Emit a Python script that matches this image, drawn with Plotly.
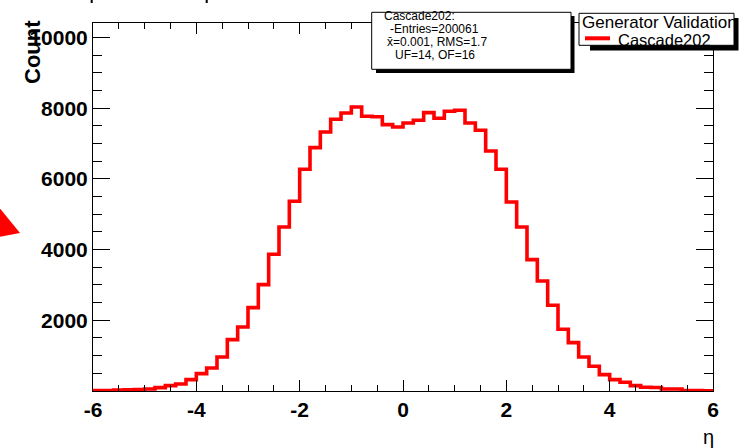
import plotly.graph_objects as go

# ---------------- data ----------------
bin_low = -6.0
bin_width = 0.2
counts = [
    10, 12, 30, 35, 40, 57, 95, 152, 199, 322,
    491, 651, 963, 1453, 1811, 2358, 3009, 3867, 4640, 5366,
    6272, 6884, 7328, 7686, 7865, 8035, 7771, 7760, 7535, 7469,
    7582, 7658, 7875, 7714, 7912, 7941, 7582, 7375, 6790, 6272,
    5347, 4640, 3716, 3113, 2424, 1745, 1368, 963, 699, 463,
    322, 246, 152, 105, 100, 57, 55, 15, 10, 8,
]
x_ticks = [-6, -4, -2, 0, 2, 4, 6]
x_ticktext = ["-6", "-4", "-2", "0", "2", "4", "6"]
y_ticks = [0, 2000, 4000, 6000, 8000, 10000]
y_ticktext = ["", "2000", "4000", "6000", "8000", "10000"]
stats_lines = ["Cascade202:", "-Entries=200061", "x\u0304=0.001, RMS=1.7", "UF=14, OF=16"]
legend_title = "Generator Validation"
series_name = "Cascade202"

edges = [bin_low + i * bin_width for i in range(len(counts) + 1)]
ys = counts + [counts[-1]]

# ---------------- geometry helpers (pixel -> paper) ----------------
W, H = 748, 448
L, R, T, B = 93, 35, 23, 57
PW, PH = W - L - R, H - T - B


def px(x):
    return (x - L) / PW


def py(y):
    return (H - B - y) / PH


FONT = "Liberation Sans, Arial, sans-serif"

fig = go.Figure()
fig.add_trace(go.Scatter(
    x=edges, y=ys, mode="lines", line=dict(shape="hv", color="#ff0000", width=3.6),
    showlegend=False, hoverinfo="skip", cliponaxis=False,
))

axis_common = dict(
    showgrid=False, zeroline=False, showline=True, linecolor="black", linewidth=1,
    mirror="ticks", ticks="inside", tickcolor="black", tickwidth=1,
    tickfont=dict(family=FONT, size=21, color="black", weight="bold"),
)

fig.update_xaxes(
    range=[-6, 6], tickmode="array", tickvals=x_ticks, ticktext=x_ticktext, ticklen=11,
    minor=dict(dtick=0.5, tick0=-6, ticklen=6, ticks="inside", tickcolor="black", showgrid=False),
    **axis_common,
)
fig.update_yaxes(
    range=[0, 10410], tickmode="array", tickvals=y_ticks, ticktext=y_ticktext, ticklen=17,
    minor=dict(dtick=500, tick0=0, ticklen=9, ticks="inside", tickcolor="black", showgrid=False),
    **axis_common,
)

shapes = []
# stats box (shadow then box)
shapes.append(dict(type="rect", xref="paper", yref="paper", x0=px(376), x1=px(574.5), y0=py(73), y1=py(16),
                   fillcolor="black", line=dict(width=0), layer="above"))
shapes.append(dict(type="rect", xref="paper", yref="paper", x0=px(371.7), x1=px(571), y0=py(69.3), y1=py(12.3),
                   fillcolor="white", line=dict(color="black", width=1), layer="above"))
# legend box
shapes.append(dict(type="rect", xref="paper", yref="paper", x0=px(590), x1=px(738.5), y0=py(50.5), y1=py(18),
                   fillcolor="black", line=dict(width=0), layer="above"))
shapes.append(dict(type="rect", xref="paper", yref="paper", x0=px(579), x1=px(734), y0=py(45.3), y1=py(13.3),
                   fillcolor="white", line=dict(color="black", width=1), layer="above"))
shapes.append(dict(type="line", xref="paper", yref="paper", x0=px(585), x1=px(610), y0=py(38.3), y1=py(38.3),
                   line=dict(color="#ff0000", width=4), layer="above"))
# red arrow head at left edge
tri = [(-6, 201), (20, 233), (-6, 238)]
path = "M " + " L ".join(f"{px(a)},{py(b)}" for a, b in tri) + " Z"
shapes.append(dict(type="path", xref="paper", yref="paper", path=path, fillcolor="#ff0000",
                   line=dict(width=0), layer="above"))
# tiny fragments of a cropped title line at the very top
for xx in (91.7, 206.7):
    shapes.append(dict(type="line", xref="paper", yref="paper", x0=px(xx), x1=px(xx), y0=py(0), y1=py(3),
                       line=dict(color="black", width=2), layer="above"))

annotations = []
stat_pos = [(383, 15.5), (389, 28.5), (386, 41.5), (394, 54.5)]
for (sx, sy), txt in zip(stat_pos, stats_lines):
    annotations.append(dict(text=txt, xref="paper", yref="paper", x=px(sx), y=py(sy), xanchor="left",
                            yanchor="middle", showarrow=False, borderpad=0,
                            font=dict(family=FONT, size=12, color="black")))
annotations.append(dict(text=legend_title, xref="paper", yref="paper", x=px(581), y=py(22.5), xanchor="left",
                        yanchor="middle", showarrow=False, borderpad=0,
                        font=dict(family=FONT, size=17, color="black")))
annotations.append(dict(text=series_name, xref="paper", yref="paper", x=px(617), y=py(40.5), xanchor="left",
                        yanchor="middle", showarrow=False, borderpad=0,
                        font=dict(family=FONT, size=16.5, color="black")))
annotations.append(dict(text="Count", xref="paper", yref="paper", x=px(33), y=py(52), textangle=-90,
                        xanchor="center", yanchor="middle", showarrow=False, borderpad=0,
                        font=dict(family=FONT, size=22, color="black", weight="bold")))
annotations.append(dict(text="\u03b7", xref="paper", yref="paper", x=px(708), y=py(437), xanchor="center",
                        yanchor="middle", showarrow=False, borderpad=0,
                        font=dict(family=FONT, size=20, color="black")))

fig.update_layout(
    width=W, height=H, margin=dict(l=L, r=R, t=T, b=B, pad=0),
    paper_bgcolor="white", plot_bgcolor="white", showlegend=False,
    shapes=shapes, annotations=annotations,
)

fig.write_html("out.html")
